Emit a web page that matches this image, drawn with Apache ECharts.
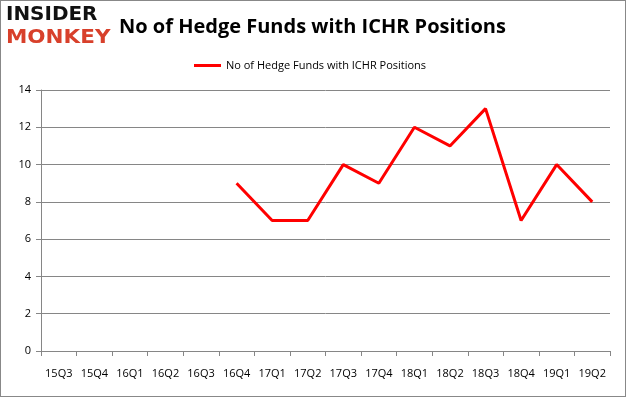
<!DOCTYPE html>
<html>
<head>
<meta charset="utf-8">
<script src="https://cdn.jsdelivr.net/npm/echarts@6/dist/echarts.min.js"></script>
<style>
html, body { margin: 0; padding: 0; background: #fff; }
#chart { width: 626px; height: 397px; box-sizing: border-box; border: 1px solid #888; position: relative; }
</style>
</head>
<body>
<div id="chart"></div>
<script>
var quarters = ['15Q3','15Q4','16Q1','16Q2','16Q3','16Q4','17Q1','17Q2','17Q3','17Q4','18Q1','18Q2','18Q3','18Q4','19Q1','19Q2'];
var fundCounts = [null, null, null, null, null, 9, 7, 7, 10, 9, 12, 11, 13, 7, 10, 8];
var seriesName = 'No of Hedge Funds with ICHR Positions';

var chart = echarts.init(document.getElementById('chart'));
var option = {
	animation: false,
	title: [
		{
			text: 'No of Hedge Funds with ICHR Positions',
			left: 113,
			top: 11,
			textStyle: { fontFamily: 'Open Sans', fontSize: 20, fontWeight: 'bold', color: '#000' }
		}
	],
	graphic: [
		{
			type: 'text', x: 5, y: 5, scaleX: 1.05,
			style: { text: 'INSIDER', fontFamily: 'DejaVu Sans', fontWeight: 'bold', fontSize: 19, fill: '#111' }
		},
		{
			type: 'text', x: 5, y: 28, scaleX: 1.13,
			style: { text: 'MONKEY', fontFamily: 'DejaVu Sans', fontWeight: 'bold', fontSize: 19, fill: '#d8402b' }
		}
	],
	legend: {
		data: [seriesName],
		top: 54,
		left: 188,
		itemWidth: 27,
		itemHeight: 3,
		icon: 'rect',
		itemGap: 3,
		textStyle: { fontFamily: 'Open Sans', fontSize: 11, color: '#000' }
	},
	grid: {
		left: 40,
		right: 15,
		top: 89,
		bottom: 45
	},
	xAxis: {
		type: 'category',
		data: quarters,
		boundaryGap: true,
		axisLine: { lineStyle: { color: '#868686' } },
		axisTick: { show: true, alignWithLabel: false, length: 5, lineStyle: { color: '#868686' } },
		axisLabel: { fontFamily: 'Open Sans', fontSize: 11, color: '#000', margin: 17, interval: 0 }
	},
	yAxis: {
		type: 'value',
		min: 0,
		max: 14,
		interval: 2,
		axisLine: { show: true, lineStyle: { color: '#868686' } },
		axisTick: { show: true, length: 5, lineStyle: { color: '#868686' } },
		splitLine: { lineStyle: { color: '#868686' } },
		axisLabel: { fontFamily: 'Open Sans', fontSize: 11, color: '#000', margin: 10 }
	},
	series: [
		{
			name: seriesName,
			type: 'line',
			data: fundCounts,
			symbol: 'none',
			connectNulls: false,
			lineStyle: { color: '#ff0000', width: 3 },
			itemStyle: { color: '#ff0000' }
		}
	]
};
chart.setOption(option);
</script>
</body>
</html>
